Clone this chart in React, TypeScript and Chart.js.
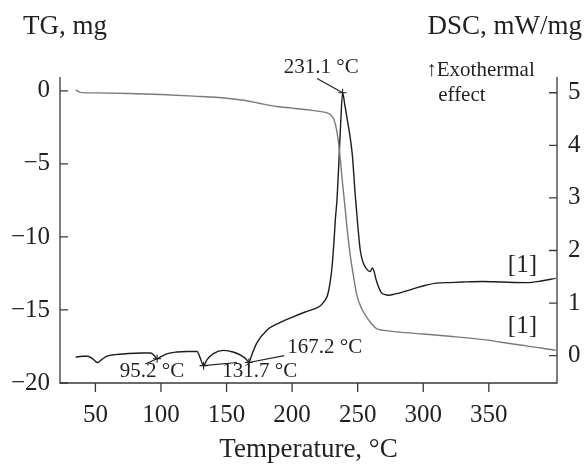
import React, { useEffect, useRef } from "react";
import { Chart, registerables } from "chart.js";

Chart.register(...registerables);

// ---- axis ticks ----
const TEMP_TICKS = [50, 100, 150, 200, 250, 300, 350];
const TG_TICKS = [-20, -15, -10, -5, 0];
const DSC_TICKS = [0, 1, 2, 3, 4, 5];

// ---- TG curve (mg) ----
const TG_T = [35, 37, 40, 50, 75, 100, 125, 150, 163, 175, 188, 200, 214, 222, 227, 230, 232, 234, 236, 238, 240.5, 242, 244.4, 247, 249.4, 253, 257, 261, 264.7, 270, 280, 300, 320, 346, 370, 390, 401];
const TG_MG = [0.08, -0.05, -0.12, -0.14, -0.18, -0.25, -0.36, -0.5, -0.64, -0.85, -1.07, -1.18, -1.32, -1.42, -1.52, -1.7, -2.0, -2.7, -4.0, -5.9, -8.1, -9.5, -11.3, -12.8, -14.0, -14.9, -15.5, -16.0, -16.3, -16.4, -16.5, -16.65, -16.8, -17.03, -17.35, -17.6, -17.76];

// ---- DSC curve (mW/mg) ----
const DSC_T = [35, 40, 44, 48, 51.5, 55, 59, 65, 75, 85, 92, 95, 97, 100, 105, 112, 120, 127.5, 130, 132.5, 135, 140, 147.8, 155, 162, 165, 167, 169, 173, 181, 190, 199, 210, 218, 222, 225, 227, 229, 230.5, 232, 233, 234.2, 235.5, 237, 238.5, 240, 242, 244, 246, 248, 250, 252, 254, 257, 259.5, 261.2, 262.5, 264, 266, 268, 271, 274, 278, 283, 290, 296, 302, 310, 320, 330, 346, 360, 379, 390, 401];
const DSC_MW = [-0.03, -0.01, -0.01, -0.06, -0.13, -0.07, -0.01, 0.02, 0.04, 0.05, 0.05, 0.0, -0.06, -0.02, 0.04, 0.07, 0.08, 0.08, -0.05, -0.19, -0.08, 0.04, 0.1, 0.07, -0.01, -0.07, -0.13, 0.0, 0.24, 0.49, 0.62, 0.72, 0.83, 0.9, 0.96, 1.05, 1.15, 1.4, 1.7, 2.2, 2.6, 2.96, 3.6, 4.4, 5.0, 4.8, 4.5, 4.2, 3.8, 3.1, 2.5, 2.0, 1.78, 1.64, 1.6, 1.67, 1.6, 1.45, 1.3, 1.2, 1.16, 1.15, 1.17, 1.2, 1.25, 1.3, 1.34, 1.38, 1.39, 1.4, 1.41, 1.4, 1.39, 1.42, 1.47];

// ---- marked peaks on the DSC curve ----
const MARK_T = [97, 132.5, 167, 238.5];
const MARK_DSC = [-0.06, -0.19, -0.13, 5.0];
const MARK_LABELS = ["95.2 °C", "131.7 °C", "167.2 °C", "231.1 °C"];
const LEADER_T = [88, 158, 194, 219];
const LEADER_DSC = [-0.16, -0.13, 0.0, 5.27];
const LABEL_T = [93.2, 146.8, 196.3, 222.2];
const LABEL_DSC = [-0.3, -0.3, 0.15, 5.48];
const LABEL_ALIGN = ["center", "left", "left", "center"];

const FONT = '"Liberation Serif", "Times New Roman", serif';
const INK = "#231f20";

const decorPlugin = {
  id: "decor",
  afterDraw(chart: any) {
    const { ctx, chartArea: a, scales } = chart;
    const x = scales.x;
    const yl = scales.yTG;
    const yr = scales.yDSC;
    ctx.save();
    ctx.strokeStyle = "#3a3a3a";
    ctx.lineWidth = 1.3;
    ctx.beginPath();
    ctx.moveTo(a.left, a.top);
    ctx.lineTo(a.left, a.bottom);
    ctx.lineTo(a.right, a.bottom);
    ctx.lineTo(a.right, a.top);
    ctx.stroke();
    ctx.beginPath();
    TEMP_TICKS.forEach((v) => {
      const px = x.getPixelForValue(v);
      ctx.moveTo(px, a.bottom);
      ctx.lineTo(px, a.bottom + 9);
    });
    TG_TICKS.forEach((v) => {
      const py = yl.getPixelForValue(v);
      ctx.moveTo(a.left, py);
      ctx.lineTo(a.left + 8, py);
    });
    DSC_TICKS.forEach((v) => {
      const py = yr.getPixelForValue(v);
      ctx.moveTo(a.right - 8, py);
      ctx.lineTo(a.right, py);
    });
    ctx.stroke();

    ctx.fillStyle = INK;
    // titles
    ctx.textBaseline = "alphabetic";
    ctx.font = `27px ${FONT}`;
    ctx.textAlign = "left";
    ctx.fillText("TG, mg", 23, 34);
    ctx.textAlign = "right";
    ctx.fillText("DSC, mW/mg", 582, 34);
    ctx.textAlign = "center";
    ctx.fillText("Temperature, °C", (a.left + a.right) / 2, 457);

    ctx.textBaseline = "middle";
    // peak labels
    ctx.font = `21px ${FONT}`;
    MARK_LABELS.forEach((t, i) => {
      ctx.textAlign = LABEL_ALIGN[i] as CanvasTextAlign;
      ctx.fillText(t, x.getPixelForValue(LABEL_T[i]), yr.getPixelForValue(LABEL_DSC[i]));
    });
    ctx.textAlign = "left";
    ctx.fillText("\u2191Exothermal", x.getPixelForValue(302.3), yr.getPixelForValue(5.43));
    ctx.fillText("effect", x.getPixelForValue(311.4), yr.getPixelForValue(4.95));

    ctx.font = `25px ${FONT}`;
    ctx.fillText("[1]", x.getPixelForValue(364.5), yr.getPixelForValue(1.71));
    ctx.fillText("[1]", x.getPixelForValue(364.5), yr.getPixelForValue(0.55));
    ctx.restore();
  },
};

export default function App() {
  const ref = useRef<HTMLCanvasElement>(null);
  useEffect(() => {
    if (!ref.current) return;
    const leaderSets = MARK_T.map((t, i) => ({
      type: "line" as const,
      data: [
        { x: t, y: MARK_DSC[i] },
        { x: LEADER_T[i], y: LEADER_DSC[i] },
      ],
      yAxisID: "yDSC",
      borderColor: INK,
      borderWidth: 1.1,
      pointRadius: 0,
      tension: 0,
    }));
    const minus = (v: any) => String(v).replace("-", "\u2212");
    const chart = new Chart(ref.current, {
      type: "line",
      data: {
        datasets: [
          {
            data: TG_T.map((t, i) => ({ x: t, y: TG_MG[i] })),
            yAxisID: "yTG",
            borderColor: "#7a7a7a",
            borderWidth: 1.4,
            pointRadius: 0,
            cubicInterpolationMode: "monotone",
          },
          {
            data: DSC_T.map((t, i) => ({ x: t, y: DSC_MW[i] })),
            yAxisID: "yDSC",
            borderColor: "#1c1c1c",
            borderWidth: 1.4,
            pointRadius: 0,
            cubicInterpolationMode: "monotone",
          },
          ...leaderSets,
          {
            data: MARK_T.map((t, i) => ({ x: t, y: MARK_DSC[i] })),
            yAxisID: "yDSC",
            showLine: false,
            pointStyle: "cross",
            pointRadius: 4,
            borderColor: INK,
            borderWidth: 1.1,
          },
        ] as any,
      },
      options: {
        responsive: false,
        animation: false,
        layout: { padding: { top: 77, left: 0, right: 0, bottom: 0 } },
        plugins: { legend: { display: false }, tooltip: { enabled: false } },
        scales: {
          x: {
            type: "linear",
            min: 23,
            max: 402,
            grid: { display: false, drawTicks: false },
            border: { display: false },
            afterBuildTicks: (s: any) => {
              s.ticks = TEMP_TICKS.map((v) => ({ value: v }));
            },
            afterFit: (s: any) => {
              s.height = 85;
            },
            ticks: {
              color: INK,
              padding: 17,
              maxRotation: 0,
              autoSkip: false,
              font: { family: FONT, size: 25 },
            },
          },
          yTG: {
            type: "linear",
            position: "left",
            min: -20,
            max: 0.95,
            grid: { display: false, drawTicks: false },
            border: { display: false },
            afterBuildTicks: (s: any) => {
              s.ticks = TG_TICKS.map((v) => ({ value: v }));
            },
            afterFit: (s: any) => {
              s.width = 60;
            },
            ticks: {
              color: INK,
              padding: 10,
              autoSkip: false,
              callback: minus,
              font: { family: FONT, size: 25 },
            },
          },
          yDSC: {
            type: "linear",
            position: "right",
            min: -0.52,
            max: 5.3,
            grid: { display: false, drawTicks: false },
            border: { display: false },
            afterBuildTicks: (s: any) => {
              s.ticks = DSC_TICKS.map((v) => ({ value: v }));
            },
            afterFit: (s: any) => {
              s.width = 27;
            },
            ticks: {
              color: INK,
              padding: 11,
              autoSkip: false,
              font: { family: FONT, size: 25 },
            },
          },
        },
      } as any,
      plugins: [decorPlugin],
    });
    return () => chart.destroy();
  }, []);
  return (
    <div style={{ position: "absolute", left: 0, top: 0, width: 584, height: 468, background: "#fff" }}>
      <canvas ref={ref} width={584} height={468} style={{ display: "block" }} />
    </div>
  );
}
